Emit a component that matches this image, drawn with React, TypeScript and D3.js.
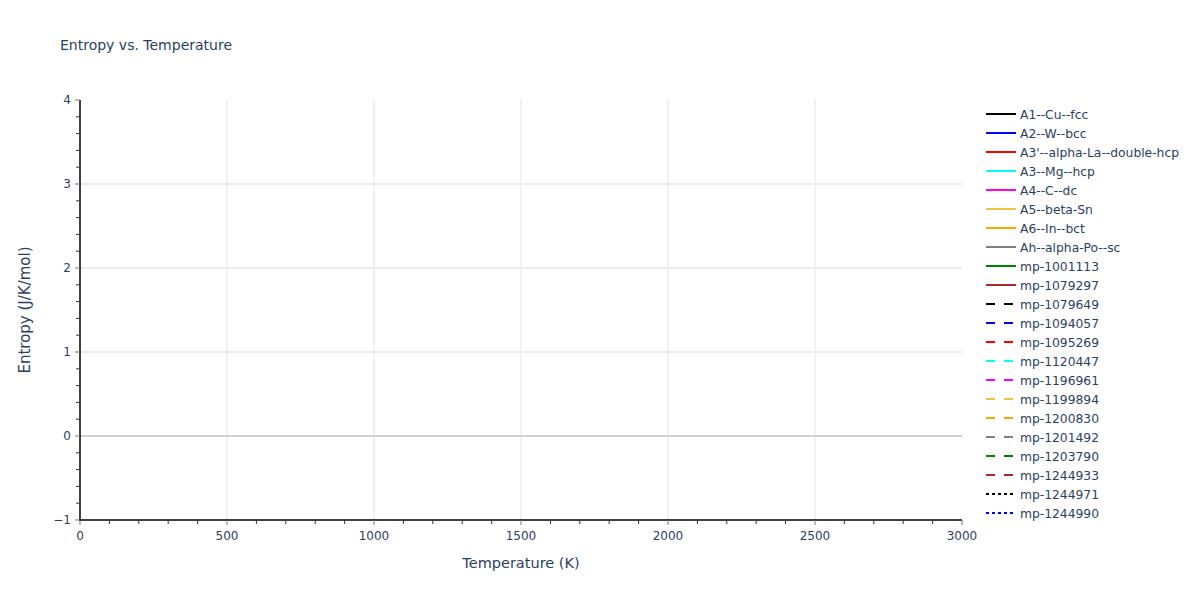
import React from "react";
import * as d3 from "d3";

const seriesNames = [
  "A1--Cu--fcc", "A2--W--bcc", "A3'--alpha-La--double-hcp", "A3--Mg--hcp", "A4--C--dc",
  "A5--beta-Sn", "A6--In--bct", "Ah--alpha-Po--sc", "mp-1001113", "mp-1079297",
  "mp-1079649", "mp-1094057", "mp-1095269", "mp-1120447", "mp-1196961",
  "mp-1199894", "mp-1200830", "mp-1201492", "mp-1203790", "mp-1244933",
  "mp-1244971", "mp-1244990",
];
const seriesColors = [
  "#000000", "#0000ff", "#ff0000", "#00ffff", "#ff00ff", "#eec643", "#ffa500", "#808080", "#008000", "#a52a2a",
  "#000000", "#0000ff", "#ff0000", "#00ffff", "#ff00ff", "#eec643", "#ffa500", "#808080", "#008000", "#a52a2a",
  "#000000", "#0000ff",
];
const seriesDash = [
  "solid", "solid", "solid", "solid", "solid", "solid", "solid", "solid", "solid", "solid",
  "dash", "dash", "dash", "dash", "dash", "dash", "dash", "dash", "dash", "dash",
  "dot", "dot",
];
// No data points fall inside the visible range of the reference.
const temperatures: number[] = [];
const seriesValues: number[][] = seriesNames.map(() => []);

const xTicks = [0, 500, 1000, 1500, 2000, 2500, 3000];
const yTicks = [-1, 0, 1, 2, 3, 4];

const W = 1200, H = 600;
const L = 80, R = 962, T = 100, B = 520;
const FONT = "'DejaVu Sans', Verdana, sans-serif";
const TXT = "#2a3f5f";

export default function App() {
  const x = d3.scaleLinear().domain([0, 3000]).range([L, R]);
  const y = d3.scaleLinear().domain([-1, 4]).range([B, T]);
  const xMinor = d3.range(0, 3001, 100);
  const yMinor = d3.range(-1, 4.001, 0.2).map((v) => Math.round(v * 10) / 10);
  const dashOf = (d: string) => (d === "dash" ? "9,9" : d === "dot" ? "3,3" : undefined);

  return (
    <svg width={W} height={H} style={{ position: "absolute", left: 0, top: 0, background: "#fff" }}>
      <rect x={0} y={0} width={W} height={H} fill="#fff" />
      {xTicks.slice(1, -1).map((t) => (
        <line key={"gx" + t} x1={x(t)} x2={x(t)} y1={T} y2={B} stroke="#e3e3e3" strokeWidth={1} />
      ))}
      {yTicks.filter((t) => t !== 0 && t !== -1 && t !== 4).map((t) => (
        <line key={"gy" + t} x1={L} x2={R} y1={y(t)} y2={y(t)} stroke="#ebebeb" strokeWidth={2} />
      ))}
      <line x1={L} x2={R} y1={y(0)} y2={y(0)} stroke="#d0d0d0" strokeWidth={2} />

      {seriesValues.map((vals, i) => {
        const pts = vals.map((v, j) => [x(temperatures[j]), y(v)] as [number, number]);
        const p = d3.line()(pts);
        return p ? (
          <path key={"s" + i} d={p} fill="none" stroke={seriesColors[i]} strokeWidth={2}
            strokeDasharray={dashOf(seriesDash[i])} />
        ) : null;
      })}

      {/* axes */}
      <line x1={L} x2={L} y1={T} y2={B + 1} stroke="#000" strokeWidth={1.5} />
      <line x1={L - 1} x2={R} y1={B} y2={B} stroke="#000" strokeWidth={1.5} />
      {xMinor.map((t) => (
        <line key={"xm" + t} x1={x(t)} x2={x(t)} y1={B} y2={B + (t % 500 === 0 ? 5 : 4)}
          stroke={t % 500 === 0 ? "#777" : "#333"} strokeWidth={1} />
      ))}
      {yMinor.map((t) => (
        <line key={"ym" + t} x1={L} x2={L - (Number.isInteger(t) ? 5 : 4)} y1={y(t)} y2={y(t)}
          stroke={Number.isInteger(t) ? "#777" : "#333"} strokeWidth={1} />
      ))}
      {xTicks.map((t) => (
        <text key={"xt" + t} x={x(t)} y={B + 20} textAnchor="middle" fontFamily={FONT} fontSize={12} fill={TXT}>
          {t}
        </text>
      ))}
      {yTicks.map((t) => (
        <text key={"yt" + t} x={L - 9} y={y(t) + 4} textAnchor="end" fontFamily={FONT} fontSize={12} fill={TXT}>
          {t < 0 ? "\u2212" + Math.abs(t) : t}
        </text>
      ))}

      <text x={(L + R) / 2} y={568} textAnchor="middle" fontFamily={FONT} fontSize={14.5} fill={TXT}>
        Temperature (K)
      </text>
      <text transform={`translate(30,${(T + B) / 2}) rotate(-90)`} textAnchor="middle" fontFamily={FONT}
        fontSize={15} fill={TXT}>
        Entropy (J/K/mol)
      </text>
      <text x={60} y={50} fontFamily={FONT} fontSize={14} fill={TXT}>
        Entropy vs. Temperature
      </text>

      {seriesNames.map((n, i) => {
        const ly = 114 + i * 19;
        return (
          <g key={"lg" + i}>
            <line x1={986} x2={1016} y1={ly} y2={ly} stroke={seriesColors[i]} strokeWidth={2}
              strokeDasharray={dashOf(seriesDash[i])} />
            <text x={1020} y={ly + 4.5} fontFamily={FONT} fontSize={12.3} fill={TXT}>
              {n}
            </text>
          </g>
        );
      })}
    </svg>
  );
}
